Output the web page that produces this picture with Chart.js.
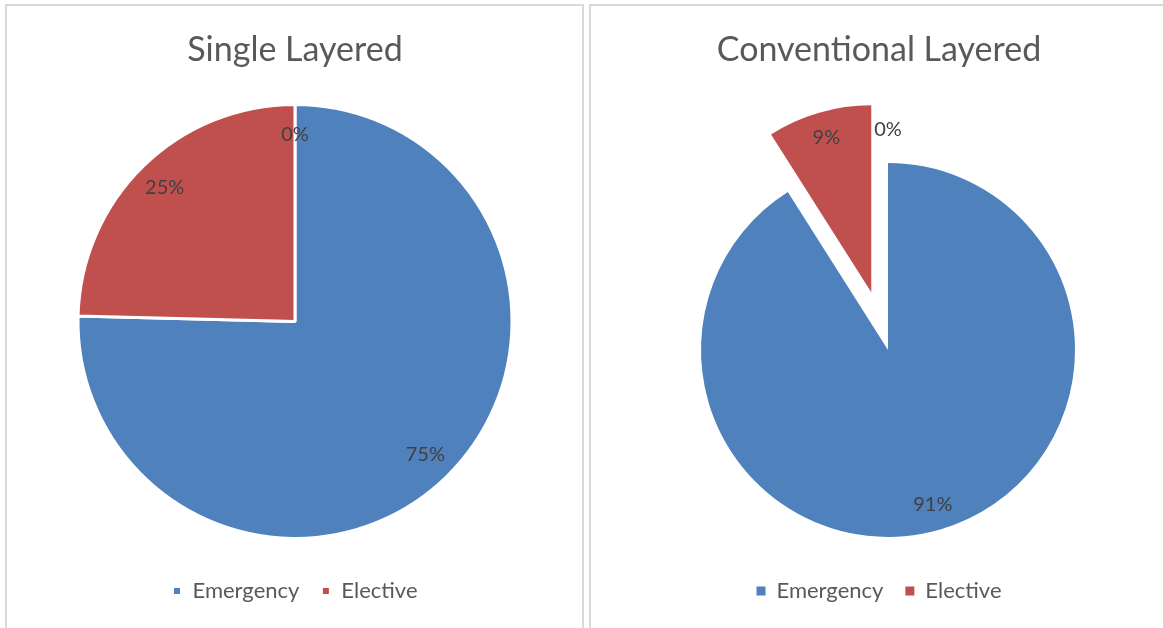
<!DOCTYPE html>
<html>
<head>
<meta charset="utf-8">
<script src="https://cdn.jsdelivr.net/npm/chart.js@4.4.0/dist/chart.umd.min.js"></script>
<style>
  body { margin: 0; background: #fff; width: 1163px; height: 628px; overflow: hidden; position: relative; }
  .panel { position: absolute; top: 4px; height: 700px; border: 2px solid #d9d9d9; box-sizing: border-box; }
  canvas { position: absolute; }
</style>
</head>
<body>
<div class="panel" style="left:5px;width:579px"></div>
<div class="panel" style="left:589px;width:620px"></div>
<canvas id="singleChart" width="576" height="605" style="left:7px;top:7px"></canvas>
<canvas id="convChart" width="576" height="605" style="left:591px;top:7px"></canvas>
<script>
const categories = ['Emergency', 'Elective', '']
const singleValues = [75.4, 24.6, 0]
const conventionalValues = [91, 9, 0]
const sliceColors = ['#4f81bd', '#c0504d', '#9bbb59']

// pull exploded slices out along their mid angle (Excel style, same radius),
// shiftX moves the whole pie sideways inside its plot area
const explodePlugin = {
  id: 'explode',
  afterDatasetUpdate(chart, args, opts) {
    const dist = opts.distances || []
    const shiftX = opts.shiftX || 0
    args.meta.data.forEach((arc, i) => {
      const d = dist[i] || 0
      const mid = (arc.startAngle + arc.endAngle) / 2
      arc.x += Math.cos(mid) * d + shiftX
      arc.y += Math.sin(mid) * d
    })
  }
}

const pctLabels = {
  id: 'pctLabels',
  afterDatasetsDraw(chart) {
    const ctx = chart.ctx
    const values = chart.data.datasets[0].data
    const total = values.reduce((a, b) => a + b, 0)
    ctx.save()
    ctx.font = '20px Lato'
    ctx.fillStyle = '#404040'
    ctx.textAlign = 'center'
    ctx.textBaseline = 'middle'
    chart.getDatasetMeta(0).data.forEach((arc, i) => {
      const mid = (arc.startAngle + arc.endAngle) / 2
      const r = arc.outerRadius * 0.86
      ctx.fillText(Math.round(values[i] / total * 100) + '%', arc.x + Math.cos(mid) * r, arc.y + Math.sin(mid) * r)
    })
    ctx.restore()
  }
}

function makePie(id, title, values, radius, border, titleGap, explode, shiftX) {
  new Chart(document.getElementById(id), {
    type: 'pie',
    data: {
      labels: categories,
      datasets: [{
        data: values,
        backgroundColor: sliceColors,
        borderColor: '#ffffff',
        borderWidth: border,
        clip: false
      }]
    },
    options: {
      responsive: false,
      animation: false,
      radius: radius,
      plugins: {
        explode: { distances: explode, shiftX: shiftX },
        tooltip: { enabled: false },
        title: {
          display: true,
          text: title,
          color: '#595959',
          font: { family: 'Lato', size: 34, weight: 'normal' },
          padding: { top: 23, bottom: titleGap }
        },
        legend: {
          position: 'bottom',
          labels: {
            color: '#595959',
            font: { family: 'Lato', size: 22 },
            boxWidth: 9,
            boxHeight: 9,
            padding: 22,
            filter: item => item.text !== ''
          }
        }
      }
    },
    plugins: [explodePlugin, pctLabels]
  })
}

makePie('singleChart', 'Single Layered', singleValues, 217, 3, 14, [], 0)
makePie('convChart', 'Conventional Layered', conventionalValues, 187, 0, 71, [0, 60, 60], 9)
</script>
</body>
</html>
